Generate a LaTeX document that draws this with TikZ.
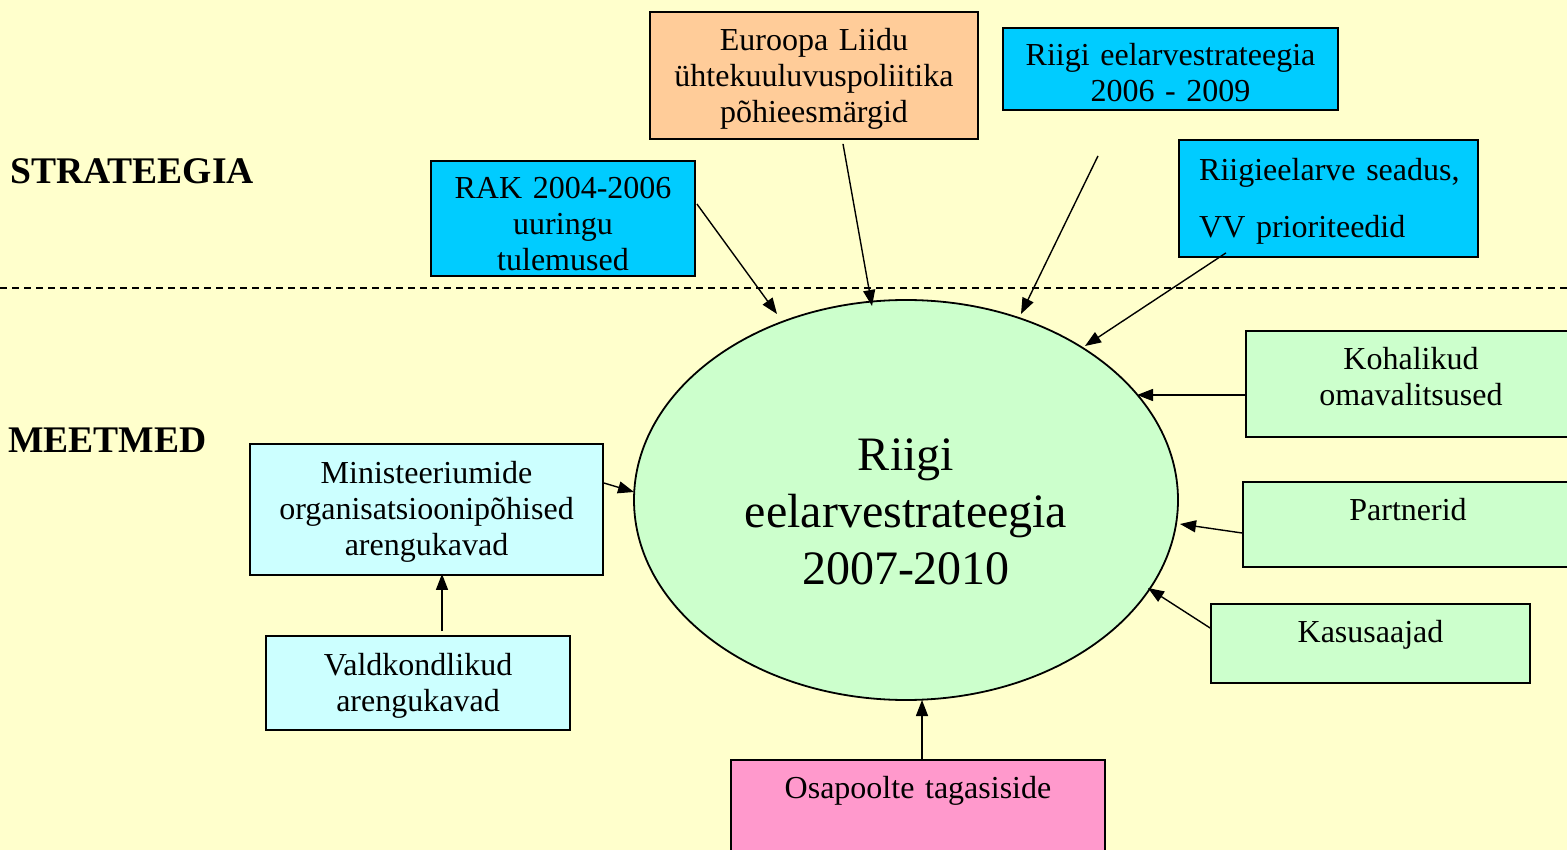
\documentclass[tikz,border=0pt]{standalone}
\usepackage{fontspec}
\setmainfont{Liberation Serif}
\usetikzlibrary{shapes.geometric,arrows.meta,calc}
\definecolor{bgyellow}{HTML}{FFFFCC}
\definecolor{boxcyan}{HTML}{00CCFF}
\definecolor{boxorange}{HTML}{FFCC99}
\definecolor{boxlightcyan}{HTML}{CCFFFF}
\definecolor{boxgreen}{HTML}{CCFFCC}
\definecolor{boxpink}{HTML}{FF99CC}
\begin{document}
\begin{tikzpicture}[x=1pt,y=-1pt,
  box/.style={draw=black,line width=1.8pt,rectangle,inner sep=0pt},
  txt/.style={font=\fontsize{32}{36}\selectfont,inner sep=0pt,text width=420pt,align=center,anchor=base},
  lab/.style={font=\fontsize{37.6}{44}\selectfont\bfseries,inner sep=0pt,anchor=base west},
  arr/.style={line width=1.4pt,-{Triangle[length=16pt,width=12pt]}}]
\useasboundingbox (0,0) rectangle (1567,850);
\clip (0,0) rectangle (1567,850);
\fill[bgyellow] (0,0) rectangle (1567,850);
\coordinate (dl) at (0,288);
\coordinate (dr) at (1567,288);
\draw[line width=1.4pt,dash pattern=on 7pt off 5pt] (dl) -- (dr);
% labels
\node[lab] (strat) at (10,184) {STRATEEGIA};
\node[lab] (meet) at (8,452) {MEETMED};
% boxes
\node[box,fill=boxcyan,minimum width=264pt,minimum height=115pt] (rak) at (563,218.5) {};
\node[txt] (raktxt) at (563,199) {RAK 2004-2006\\uuringu\\tulemused};
\node[box,fill=boxorange,minimum width=328pt,minimum height=127pt] (euro) at (814,75.5) {};
\node[txt] (eurotxt) at (814,51) {Euroopa Liidu\\ühtekuuluvuspoliitika\\põhieesmärgid};
\node[box,fill=boxcyan,minimum width=335pt,minimum height=82pt] (rs06) at (1170.5,69) {};
\node[txt] (rs06txt) at (1170.5,66) {Riigi eelarvestrateegia\\2006 - 2009};
\node[box,fill=boxcyan,minimum width=299pt,minimum height=117pt] (rsead) at (1328.5,198.5) {};
\node[txt,font=\fontsize{32}{57}\selectfont,text width=280pt,align=left,anchor=base west] (rseadtxt) at (1199,181) {Riigieelarve seadus,\\VV prioriteedid};
\node[box,fill=boxgreen,minimum width=330pt,minimum height=106pt] (koh) at (1411,384) {};
\node[txt] (kohtxt) at (1411,370) {Kohalikud\\omavalitsused};
\node[box,fill=boxgreen,minimum width=330pt,minimum height=85pt] (part) at (1408,524.5) {};
\node[txt] (parttxt) at (1408,520) {Partnerid};
\node[box,fill=boxgreen,minimum width=319pt,minimum height=79pt] (kasu) at (1370.5,643.5) {};
\node[txt] (kasutxt) at (1370.5,642) {Kasusaajad};
\node[box,fill=boxlightcyan,minimum width=353pt,minimum height=131pt] (mini) at (426.5,509.5) {};
\node[txt] (minitxt) at (426.5,483) {Ministeeriumide\\organisatsioonipõhised\\arengukavad};
\node[box,fill=boxlightcyan,minimum width=304pt,minimum height=94pt] (vald) at (418,683) {};
\node[txt] (valdtxt) at (418,675) {Valdkondlikud\\arengukavad};
\node[box,fill=boxpink,minimum width=374pt,minimum height=160pt] (osa) at (918,840) {};
\node[txt] (osatxt) at (918,798) {Osapoolte tagasiside};
% ellipse
\node[ellipse,draw=black,line width=1.8pt,fill=boxgreen,minimum width=544pt,minimum height=400pt,inner sep=0pt] (ell) at (906,500) {};
\node[txt,font=\fontsize{48}{57.5}\selectfont,text width=500pt] (elltxt) at (906,470) {Riigi\\eelarvestrateegia\\2007-2010};
% arrows
\coordinate (rs06start) at ($(rs06.south)+(-72.5,45)$);
\draw[arr] ($(rak.east)+(1,-14.5)$) -- ($(ell.center)+(-129,-186)$);
\draw[arr] ($(euro.south)+(29,4)$) -- ($(ell.center)+(-34,-194)$);
\draw[arr] (rs06start) -- ($(ell.center)+(115,-186)$);
\draw[arr] ($(rsead.south)+(-102.5,-5)$) -- ($(ell.center)+(179,-154)$);
\draw[arr] ($(koh.west)+(0,11)$) -- ($(ell.center)+(231,-105)$);
\draw[arr] ($(part.west)+(0,8.5)$) -- ($(ell.center)+(274,24)$);
\draw[arr] ($(kasu.west)+(0,-15.5)$) -- ($(ell.center)+(242,88)$);
\draw[arr] ($(osa.north)+(4,0)$) -- ($(ell.center)+(16,200)$);
\draw[arr] ($(mini.east)+(0,-26.5)$) -- ($(ell.center)+(-272,-8)$);
\draw[arr] ($(vald.north)+(24,-4)$) -- ($(mini.south)+(15.5,-2)$);
\end{tikzpicture}
\end{document}
